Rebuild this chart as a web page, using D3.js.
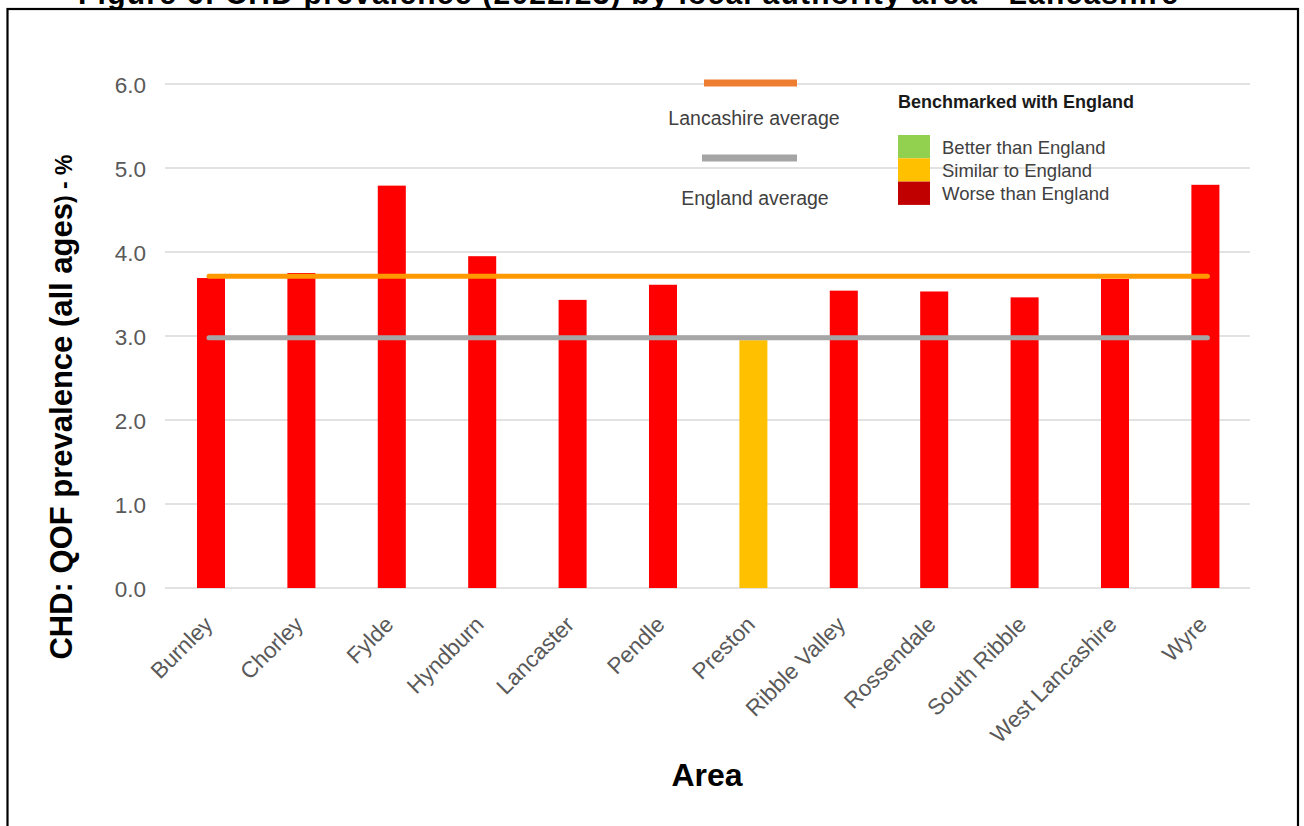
<!DOCTYPE html>
<html>
<head>
<meta charset="utf-8">
<script src="https://cdn.jsdelivr.net/npm/d3@7"></script>
<style>
  html, body { margin: 0; padding: 0; background: #fff; }
  svg { display: block; font-family: "Liberation Sans", Arial, sans-serif; }
</style>
</head>
<body>
<svg id="chart" width="1304" height="826"></svg>
<script>
// CHD QOF prevalence 2022/23 by Lancashire local authority
const areas = ["Burnley", "Chorley", "Fylde", "Hyndburn", "Lancaster", "Pendle",
  "Preston", "Ribble Valley", "Rossendale", "South Ribble", "West Lancashire", "Wyre"];
const prevalence = [3.69, 3.75, 4.79, 3.95, 3.43, 3.61, 2.95, 3.54, 3.53, 3.46, 3.68, 4.80];
const benchmark = ["worse", "worse", "worse", "worse", "worse", "worse",
  "similar", "worse", "worse", "worse", "worse", "worse"];
const lancashireAverage = 3.71;
const englandAverage = 2.98;
const yTicks = [0, 1, 2, 3, 4, 5, 6];
const benchmarkLabels = ["Better than England", "Similar to England", "Worse than England"];

const barColour = { better: "#92D050", similar: "#FFC000", worse: "#FF0000" };
const legendSwatch = ["#92D050", "#FFC000", "#C00000"];

const svg = d3.select("#chart");

// page title (sits above the frame, only its lower edge shows)
svg.append("text")
  .attr("x", 628).attr("y", 4)
  .attr("text-anchor", "middle")
  .attr("font-size", 30).attr("font-weight", "bold")
  .attr("textLength", 1100)
  .text("Figure 6: CHD prevalence (2022/23) by local authority area - Lancashire");

// frame
svg.append("rect")
  .attr("x", 7.5).attr("y", 9).attr("width", 1290.5).attr("height", 840)
  .attr("fill", "#fff").attr("stroke", "#000").attr("stroke-width", 2.2);

const x = d3.scaleBand().domain(areas).range([165.8, 1250.6]).paddingInner(0.69).paddingOuter(0.345);
const y = d3.scaleLinear().domain([0, 6]).range([588, 84]);

// gridlines
svg.append("g").selectAll("line").data(yTicks).join("line")
  .attr("x1", 165).attr("x2", 1250)
  .attr("y1", d => y(d)).attr("y2", d => y(d))
  .attr("stroke", "#d9d9d9").attr("stroke-width", 1.3);

// y axis
const yAxis = svg.append("g").attr("transform", "translate(146,0)")
  .call(d3.axisLeft(y).tickValues(yTicks).tickFormat(d3.format(".1f")).tickSize(0).tickPadding(0));
yAxis.select(".domain").remove();
yAxis.selectAll("text")
  .attr("font-family", "Liberation Sans, Arial, sans-serif")
  .attr("font-size", 22.5).attr("fill", "#595959")
  .attr("dy", "0.36em");

// bars
svg.append("g").selectAll("rect").data(areas).join("rect")
  .attr("x", d => x(d))
  .attr("width", x.bandwidth())
  .attr("y", (d, i) => y(prevalence[i]))
  .attr("height", (d, i) => y(0) - y(prevalence[i]))
  .attr("fill", (d, i) => barColour[benchmark[i]]);

// average lines, drawn from first to last bar centre
const cFirst = x(areas[0]) + x.bandwidth() / 2;
const cLast = x(areas[areas.length - 1]) + x.bandwidth() / 2;
svg.append("line")
  .attr("x1", cFirst - 2).attr("x2", cLast + 2)
  .attr("y1", y(englandAverage)).attr("y2", y(englandAverage))
  .attr("stroke", "#A6A6A6").attr("stroke-width", 5).attr("stroke-linecap", "round");
svg.append("line")
  .attr("x1", cFirst - 2).attr("x2", cLast + 2)
  .attr("y1", y(lancashireAverage)).attr("y2", y(lancashireAverage))
  .attr("stroke", "#FF9900").attr("stroke-width", 5).attr("stroke-linecap", "round");

// x axis labels
const xAxis = svg.append("g").attr("transform", "translate(0,588)")
  .call(d3.axisBottom(x).tickSize(0).tickPadding(0));
xAxis.select(".domain").remove();
xAxis.selectAll("text")
  .attr("font-family", "Liberation Sans, Arial, sans-serif")
  .attr("font-size", 22.5).attr("fill", "#595959")
  .attr("text-anchor", "end")
  .attr("dy", null)
  .attr("transform", "translate(3,38) rotate(-45)");

// axis titles
svg.append("text")
  .attr("x", 707).attr("y", 786)
  .attr("text-anchor", "middle")
  .attr("font-size", 32).attr("font-weight", "bold")
  .text("Area");

const yTitle = svg.append("text")
  .attr("transform", "translate(72,407) rotate(-90)")
  .attr("text-anchor", "middle")
  .attr("font-size", 31).attr("font-weight", "bold");
yTitle.append("tspan").text("CHD: QOF prevalence (all ages");
yTitle.append("tspan").attr("font-size", 23).text(") - %");

// legend: average lines
const legend = svg.append("g").attr("fill", "#404040").attr("font-size", 19.5);
legend.append("line").attr("x1", 704).attr("x2", 797).attr("y1", 83).attr("y2", 83)
  .attr("stroke", "#ED7D31").attr("stroke-width", 7);
legend.append("text").attr("x", 754).attr("y", 125).attr("text-anchor", "middle").text("Lancashire average");
legend.append("line").attr("x1", 702).attr("x2", 797).attr("y1", 158).attr("y2", 158)
  .attr("stroke", "#A5A5A5").attr("stroke-width", 7);
legend.append("text").attr("x", 755).attr("y", 205).attr("text-anchor", "middle").text("England average");

// legend: benchmark key
legend.append("text").attr("x", 898).attr("y", 108)
  .attr("font-size", 18).attr("font-weight", "bold").attr("fill", "#1a1a1a")
  .text("Benchmarked with England");
const key = legend.append("g");
key.selectAll("rect").data(benchmarkLabels).join("rect")
  .attr("x", 898).attr("y", (d, i) => 135 + i * 23.3)
  .attr("width", 32).attr("height", 23.3)
  .attr("fill", (d, i) => legendSwatch[i]);
key.selectAll("text").data(benchmarkLabels).join("text")
  .attr("x", 942).attr("y", (d, i) => 154 + i * 23)
  .attr("font-size", 18.5)
  .text(d => d);
</script>
</body>
</html>
